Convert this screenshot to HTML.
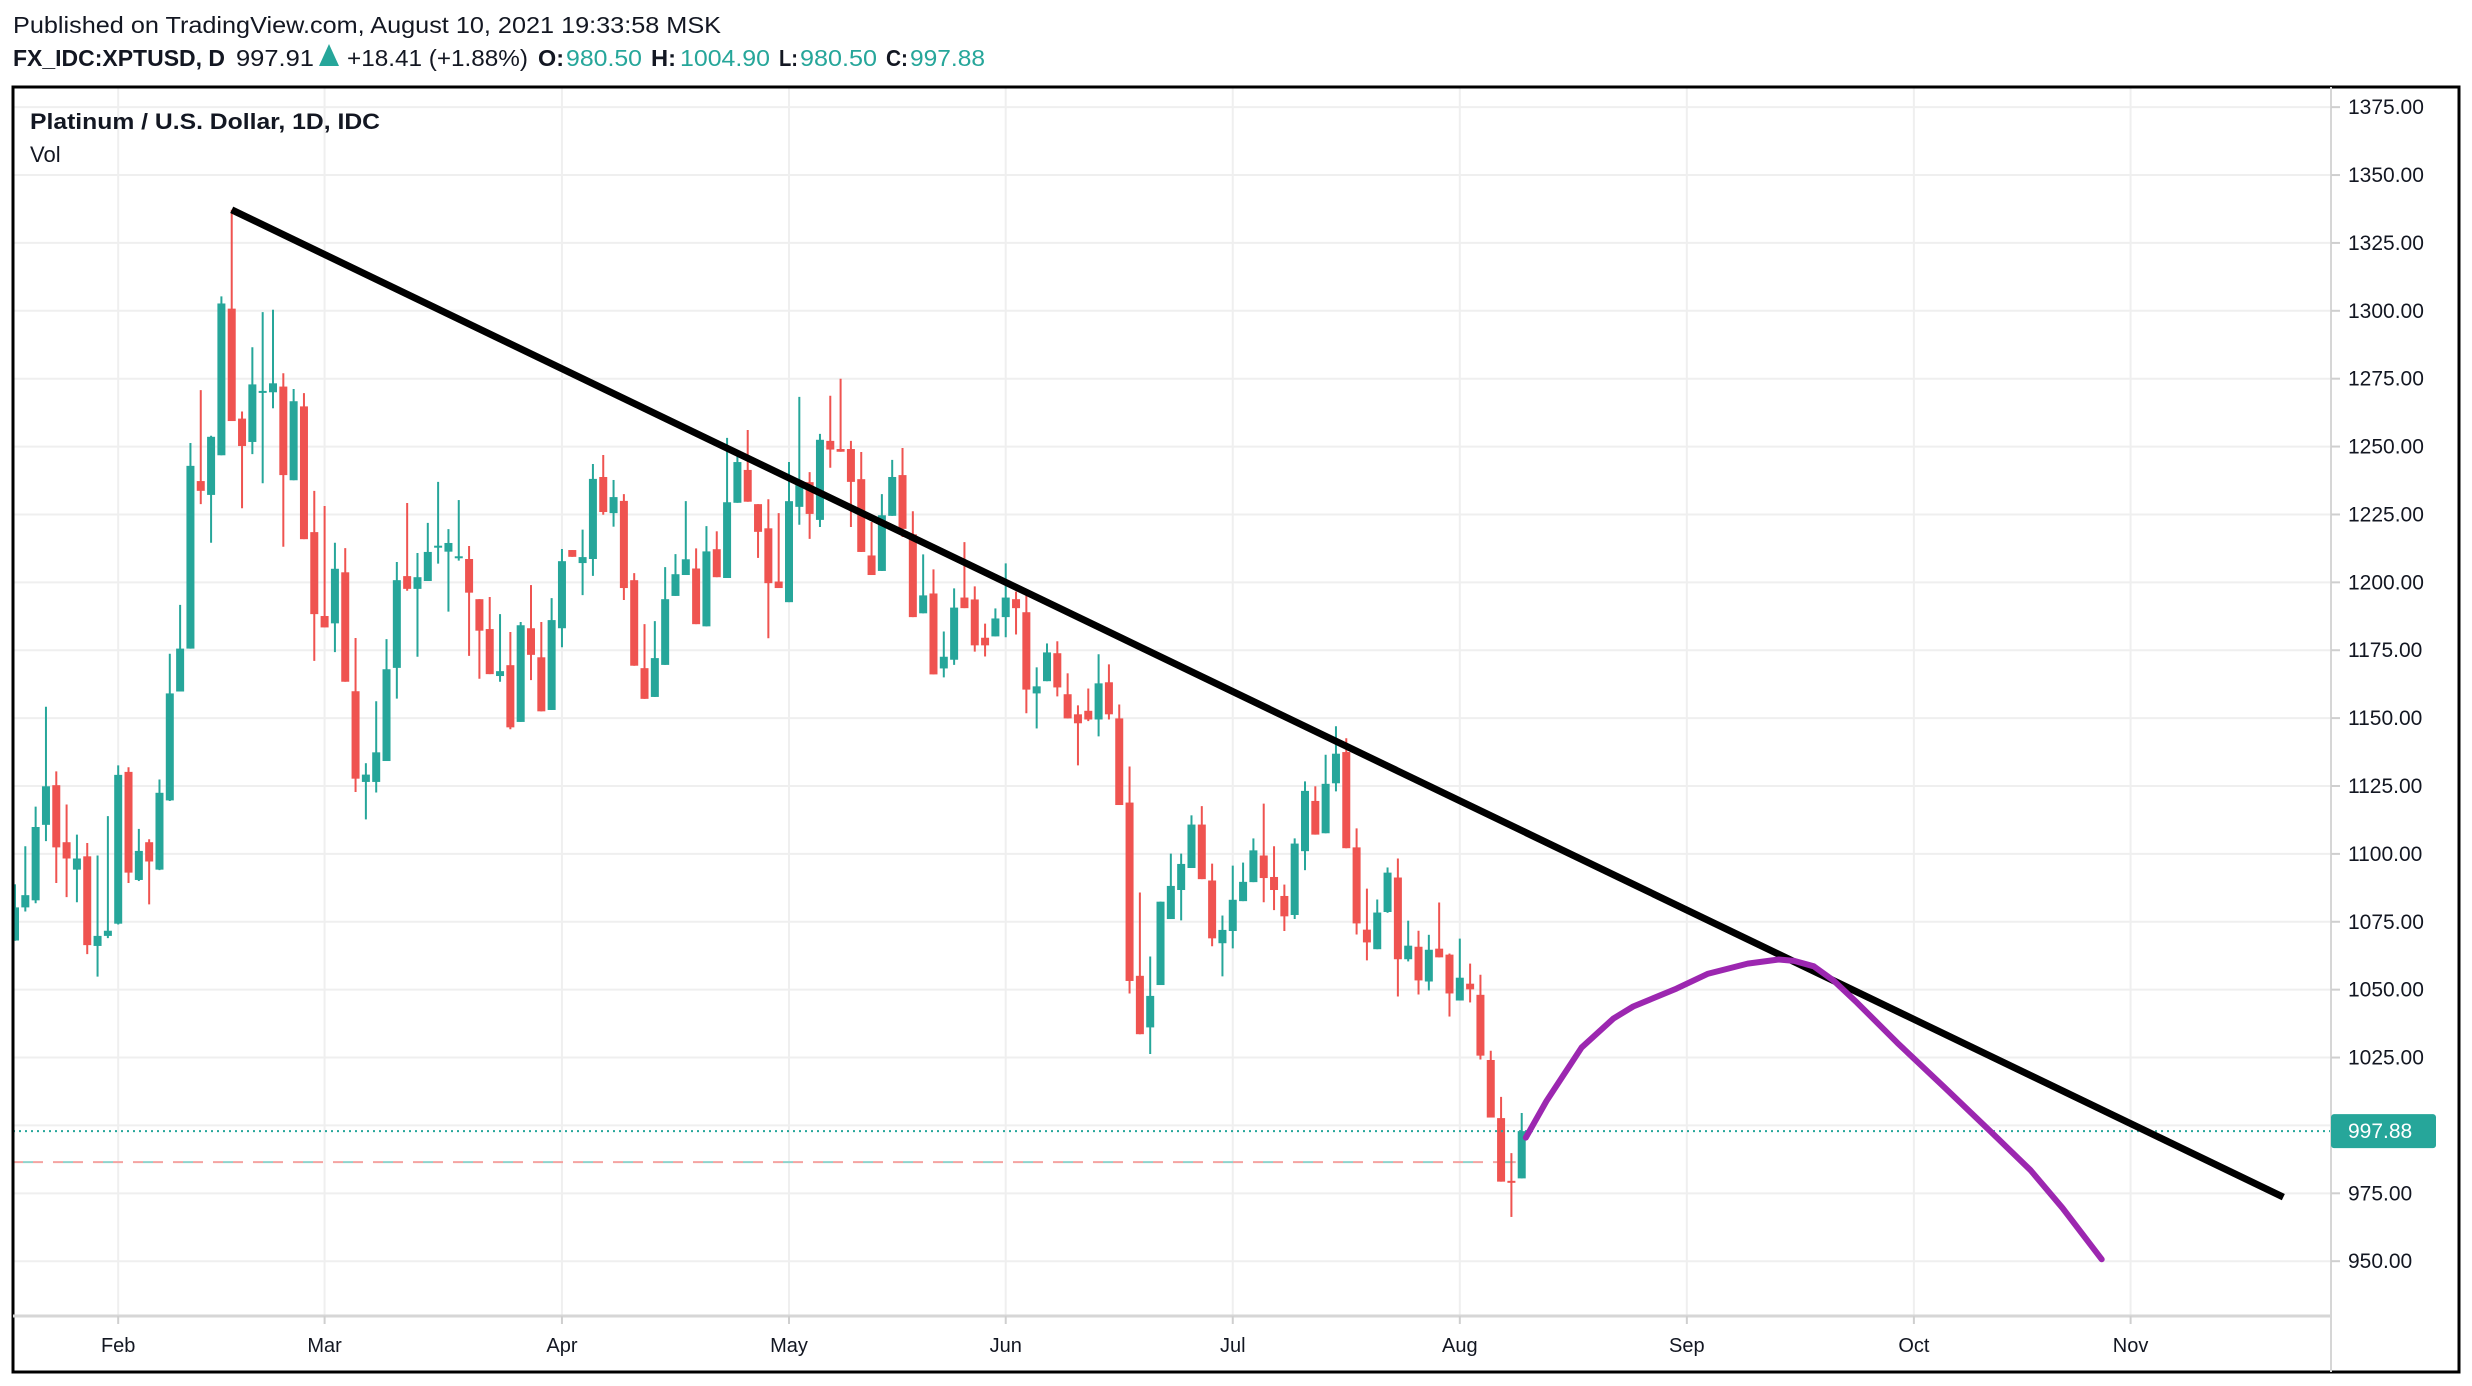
<!DOCTYPE html>
<html><head><meta charset="utf-8"><style>
html,body{margin:0;padding:0;background:#fff;}
svg{display:block;font-family:"Liberation Sans",Arial,sans-serif;}
</style></head><body>
<svg id="chart" width="2472" height="1386" viewBox="0 0 2472 1386" xmlns="http://www.w3.org/2000/svg">
<text x="13" y="33" font-size="23" fill="#131722" textLength="708" lengthAdjust="spacingAndGlyphs">Published on TradingView.com, August 10, 2021 19:33:58 MSK</text>
<g font-size="23">
<text x="13" y="66" font-weight="bold" fill="#131722" textLength="212" lengthAdjust="spacingAndGlyphs">FX_IDC:XPTUSD, D</text>
<text x="236" y="66" fill="#131722" textLength="78" lengthAdjust="spacingAndGlyphs">997.91</text>
<polygon points="319,66 339,66 329,44" fill="#26a69a"/>
<text x="347" y="66" fill="#131722" textLength="181" lengthAdjust="spacingAndGlyphs">+18.41 (+1.88%)</text>
<text x="538" y="66" font-weight="bold" fill="#131722" textLength="26" lengthAdjust="spacingAndGlyphs">O:</text>
<text x="566" y="66" fill="#26a69a" textLength="76" lengthAdjust="spacingAndGlyphs">980.50</text>
<text x="651" y="66" font-weight="bold" fill="#131722" textLength="25" lengthAdjust="spacingAndGlyphs">H:</text>
<text x="680" y="66" fill="#26a69a" textLength="90" lengthAdjust="spacingAndGlyphs">1004.90</text>
<text x="779" y="66" font-weight="bold" fill="#131722" textLength="19" lengthAdjust="spacingAndGlyphs">L:</text>
<text x="800" y="66" fill="#26a69a" textLength="77" lengthAdjust="spacingAndGlyphs">980.50</text>
<text x="886" y="66" font-weight="bold" fill="#131722" textLength="22" lengthAdjust="spacingAndGlyphs">C:</text>
<text x="910" y="66" fill="#26a69a" textLength="75" lengthAdjust="spacingAndGlyphs">997.88</text>
</g>
<g id="grid"></g>
<g id="marks"></g>
<rect x="13" y="87" width="2446" height="1285" fill="none" stroke="#000" stroke-width="3"/>
<line x1="2331" y1="87" x2="2331" y2="1372" stroke="#d6d6d6" stroke-width="2"/>
<line x1="13" y1="1316" x2="2331" y2="1316" stroke="#d6d6d6" stroke-width="3"/>
<g id="axes"></g>
<text x="30" y="129" font-size="22" font-weight="bold" fill="#131722" textLength="350" lengthAdjust="spacingAndGlyphs">Platinum / U.S. Dollar, 1D, IDC</text>
<text x="30" y="162" font-size="22" fill="#131722">Vol</text>
</svg>
<script>
const opens=[1068.1,1080.3,1082.9,1110.7,1125.3,1104.3,1094.2,1099.1,1066.1,1069.8,1074.3,1130.2,1090.4,1104.3,1094.2,1119.7,1159.8,1175.6,1237.3,1232.2,1246.8,1300.8,1260.3,1251.7,1270,1270,1272.1,1237.6,1264.8,1218.5,1187.6,1184.9,1203.7,1159.9,1126.5,1126.5,1134.2,1168.5,1202.3,1197.6,1200.5,1213,1211.3,1209.1,1208.6,1193.8,1182.8,1165.5,1169.5,1148.6,1183.1,1172.4,1153,1183.1,1211.9,1207.1,1208.6,1238.8,1225.5,1230,1200.8,1168.4,1157.8,1169.6,1195,1202.7,1205.1,1183.8,1212.2,1201.6,1229.3,1241.4,1228.8,1219.9,1200.3,1192.7,1227.8,1236.9,1223,1252.1,1249.1,1249.1,1238,1209.9,1204.2,1224.5,1239.5,1217.7,1188.6,1195.9,1168.3,1171.5,1194.4,1193.7,1179.6,1180.1,1187.2,1193.8,1189,1159.1,1163.6,1173.9,1158.8,1151.4,1152.7,1149.5,1163.2,1149.9,1118.9,1055.1,1036.1,1051.7,1076,1086.7,1094.8,1110.8,1090.2,1067.1,1071.6,1082.6,1089.6,1099.4,1091.5,1084.5,1077.5,1101,1119.5,1107.6,1126,1137.5,1102.4,1072.1,1064.9,1078.6,1091.3,1061.2,1065.8,1053,1065.1,1062.9,1046,1052.2,1048.1,1024.1,1002.7,979.6,980.5];
const highs=[1088.8,1102.8,1117.4,1154.2,1130.4,1118.2,1107.1,1104,1099.4,1113.9,1132.6,1131.9,1109.2,1105.4,1127.4,1173.7,1191.7,1251.3,1270.8,1254,1305.3,1337.2,1262.9,1286.6,1299.5,1300.4,1277,1271.2,1269.7,1233.7,1228.1,1214.6,1212.6,1179.5,1133.4,1156.2,1179.1,1207.5,1229.2,1210.8,1221.9,1237,1219.6,1230.3,1213.4,1193.8,1194.6,1188.3,1181.7,1185.4,1199,1185.4,1194.2,1212.3,1211.9,1219.4,1243.6,1246.9,1237.7,1232.5,1203.4,1184.6,1185.7,1205.6,1210.4,1229.9,1212.5,1220.7,1218.8,1253.2,1248,1256.1,1228.8,1230.6,1225.5,1244.3,1268.3,1240.6,1254.7,1268.7,1275,1252.1,1248,1222.2,1232.5,1245.1,1249.5,1226.2,1210.3,1204.8,1181.9,1197.8,1214.8,1198.5,1184.8,1190.4,1207,1196.6,1195.9,1168.7,1177.5,1178.3,1166.5,1154.7,1160.9,1173.5,1169.8,1155,1132.2,1085.8,1062.2,1082.4,1100.1,1100.1,1114.2,1117.6,1096.4,1077.3,1095.7,1096.8,1105.7,1118.5,1102.8,1088.7,1105.7,1126.7,1124.9,1136.5,1147,1142.6,1109.4,1087.2,1083.2,1095,1098.3,1075.4,1071.7,1070.2,1082.1,1063.3,1068.8,1059.6,1055.5,1027.5,1010.5,989.8,1004.6];
const lows=[1068,1078.8,1081.8,1104.7,1089.3,1084.1,1082.2,1063.1,1054.8,1069,1074,1089.3,1090,1081.4,1094,1119.5,1159.8,1175.6,1228.8,1214.6,1246.8,1259.4,1227.3,1247.2,1236.5,1264.1,1213.1,1237.6,1215.9,1171.1,1183.4,1174.3,1163.4,1122.8,1112.7,1122.6,1134.2,1157.2,1196.9,1172.6,1200.5,1206.9,1189.2,1208,1172.9,1164.5,1166.2,1163.4,1145.9,1148.6,1164,1152.5,1153,1176.1,1209.4,1195.3,1202.4,1224.9,1220.5,1193.5,1169.3,1157.1,1157.8,1169.6,1195,1202.7,1184.6,1183.8,1201.9,1201.6,1229.3,1229.7,1209,1179.4,1197.9,1192.7,1221.2,1216,1220.4,1242.2,1248.1,1220.4,1211.2,1202.7,1204.2,1224.5,1216.7,1187.2,1188.6,1166.1,1165,1169.6,1190.5,1174.5,1172.7,1180.1,1179.8,1180.8,1151.8,1146.2,1163.6,1158,1149.9,1132.6,1148.9,1143.3,1149.5,1118,1048.6,1033.6,1026.3,1051.7,1076,1075.5,1094.8,1090.7,1066,1054.9,1065.2,1082.6,1089.6,1082.2,1079.3,1071.6,1076,1094,1107.1,1107.6,1123,1102.1,1070.3,1060.8,1064.9,1078.3,1047.5,1060.4,1048.2,1049.7,1061.9,1040.1,1046,1045.3,1024.3,1002.9,979.3,966.3,980.5];
const closes=[1080.3,1084.8,1109.9,1124.9,1102.4,1098.3,1098.3,1066.4,1069.8,1071.7,1129.1,1093.1,1101.1,1097.2,1122.5,1159.1,1175.6,1242.9,1233.7,1253.6,1302.7,1259.4,1250.2,1272.9,1270.5,1273.3,1239.5,1266.7,1215.9,1188.3,1183.4,1205,1163.4,1127.7,1129.2,1137.4,1168,1200.8,1197.6,1201.9,1211.2,1213.5,1214.5,1209.6,1196.2,1182.2,1166.2,1167.3,1146.6,1184.2,1173.3,1152.5,1186.1,1207.8,1209.4,1209.3,1238.1,1225.9,1231.4,1197.9,1169.3,1157.1,1172.1,1193.8,1203,1208.5,1184.6,1211.4,1201.9,1229.5,1244.3,1229.7,1218.6,1199.7,1197.9,1229.9,1236.6,1225.2,1252.5,1248.9,1248.1,1237,1211.2,1202.7,1224.7,1238.8,1219.7,1187.2,1195.2,1166.1,1172.6,1190.7,1190.5,1176.8,1176.8,1186.7,1194.4,1190.5,1160.5,1161.7,1174.2,1161.3,1149.9,1148.1,1149.5,1162.8,1151.4,1118,1053.2,1033.6,1047.7,1082.4,1088.2,1096.3,1110.8,1090.7,1068.9,1072,1083.1,1089.7,1101.3,1091.1,1086.7,1077,1103.8,1123.2,1107.1,1125.8,1136.9,1102.1,1074.4,1067.4,1078.4,1093.1,1061.2,1066.2,1053.4,1064.7,1061.9,1048.6,1054.4,1050.1,1025.7,1002.9,979.3,979.1,997.9];
const priceTicks=[950,975,1000,1025,1050,1075,1100,1125,1150,1175,1200,1225,1250,1275,1300,1325,1350,1375];
const monthLabels=["Feb","Mar","Apr","May","Jun","Jul","Aug","Sep","Oct","Nov"];
const monthIdx=[10,30,53,75,96,118,140,162,184,205];
const trendIdx=[21,219.8];
const trendPrice=[1337.2,973.6];
const projIdx=[146.4,148.4,151.8,154.9,156.8,161,164,167.9,170.9,172.4,174.3,176.2,178.5,182.4,187,191.5,195.3,198.4,202.2];
const projPrice=[995.5,1009,1028.7,1039.4,1043.8,1050.4,1055.8,1059.6,1061.1,1060.6,1058.6,1053.4,1045.2,1030.4,1013.9,997.5,983.5,969.6,950.7];
const lastPrice=997.88;
const prevClose=986.5;

const NS="http://www.w3.org/2000/svg";
const yOf=p=>1261.2-(p-950)*2.7154;
const xOf=i=>15+i*10.32;
function mk(tag,attrs,parent){const e=document.createElementNS(NS,tag);for(const k in attrs)e.setAttribute(k,attrs[k]);parent.appendChild(e);return e;}
const grid=document.getElementById('grid'),marks=document.getElementById('marks'),axes=document.getElementById('axes');
const svg=document.getElementById('chart');
const defs=mk('defs',{},svg);
const cp=mk('clipPath',{id:'plotclip'},defs);
mk('rect',{x:14,y:88,width:2316,height:1227},cp);
marks.setAttribute('clip-path','url(#plotclip)');

priceTicks.forEach(p=>{
  const y=yOf(p);
  const g=mk('line',{x1:14,y1:y,x2:2331,y2:y,stroke:'#efefef','stroke-width':2},grid);
  
  
  const t=mk('line',{x1:2331,y1:y,x2:2340,y2:y,stroke:'#cfcfcf','stroke-width':2},axes);
  
  
  const l=mk('text',{x:2348,y:y+7,'font-size':21,fill:'#131722'},axes);
  l.textContent=p.toFixed(2);
  
  
});
monthIdx.forEach((i,k)=>{
  const x=xOf(i);
  const g=mk('line',{x1:x,y1:88,x2:x,y2:1316,stroke:'#efefef','stroke-width':2},grid);
  
  
  const t=mk('line',{x1:x,y1:1316,x2:x,y2:1324,stroke:'#cfcfcf','stroke-width':2},axes);
  
  
  const l=mk('text',{x:x,y:1352,'font-size':20,fill:'#131722','text-anchor':'middle'},axes);
  l.textContent=monthLabels[k];
  
  
});

const d1=mk('line',{x1:13,y1:yOf(prevClose),x2:xOf(146)-6,y2:yOf(prevClose),stroke:'#f4a3a1','stroke-width':2,'stroke-dasharray':'10 10'},marks);


const d2=mk('line',{x1:23,y1:yOf(prevClose),x2:xOf(146)-6,y2:yOf(prevClose),stroke:'#8ed3cc','stroke-width':2,'stroke-dasharray':'10 30'},marks);



opens.forEach((o,i)=>{
  const c=closes[i],h=highs[i],l=lows[i];
  const col=c>=o?'#26a69a':'#ef5350';
  const x=xOf(i);
  const w=mk('line',{x1:x,y1:yOf(h),x2:x,y2:yOf(l),stroke:col,'stroke-width':2},marks);
  
  
  const top=yOf(Math.max(o,c)),bot=yOf(Math.min(o,c));
  const b=mk('rect',{x:x-4,y:top,width:8,height:Math.max(2,bot-top),fill:col},marks);
  
  
});

const lp=mk('line',{x1:13,y1:yOf(lastPrice),x2:2331,y2:yOf(lastPrice),stroke:'#26a69a','stroke-width':2,'stroke-dasharray':'2 4'},marks);



const tl=mk('line',{x1:xOf(trendIdx[0]),y1:yOf(trendPrice[0]),x2:xOf(trendIdx[1]),y2:yOf(trendPrice[1]),stroke:'#000','stroke-width':7},marks);



const pts=projIdx.map((v,k)=>xOf(v).toFixed(1)+','+yOf(projPrice[k]).toFixed(1)).join(' ');
const pl=mk('polyline',{points:pts,fill:'none',stroke:'#9c27b0','stroke-width':6,'stroke-linejoin':'round','stroke-linecap':'round'},marks);



const ly=yOf(lastPrice);
const bx=mk('rect',{x:2331,y:ly-17,width:105,height:34,rx:3,fill:'#26a69a'},axes);


const bt=mk('text',{x:2348,y:ly+7,'font-size':21,fill:'#fff'},axes);
bt.textContent=lastPrice.toFixed(2);


</script>
</body></html>
